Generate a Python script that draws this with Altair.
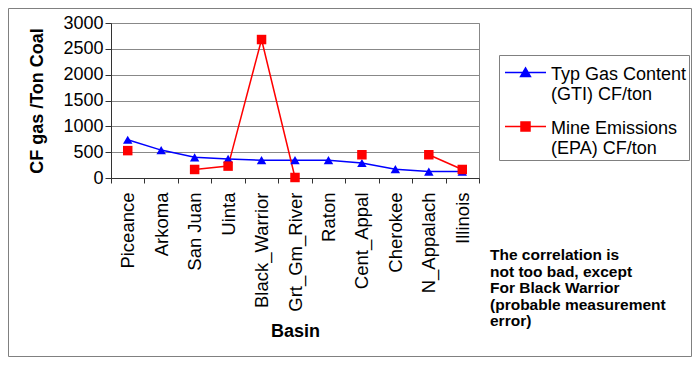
import altair as alt
import pandas as pd

# ---- data ----
basins = ["Piceance", "Arkoma", "San Juan", "Uinta", "Black_Warrior",
          "Grt_Gm_River", "Raton", "Cent_Appal", "Cherokee", "N_Appalach", "Illinois"]
gti_values = [740, 540, 400, 370, 345, 345, 345, 290, 170, 125, 125]
epa_values = [530, None, 165, 230, 2680, 10, None, 450, None, 450, 165]
series_names = ["Typ Gas Content\n(GTI) CF/ton", "Mine Emissions\n(EPA) CF/ton"]
series_colors = ["#0000FF", "#FF0000"]
series_shapes = ["triangle-up", "square"]
y_ticks = [0, 500, 1000, 1500, 2000, 2500, 3000]
note_lines = ["The correlation is", "not too bad, except", "For Black Warrior",
              "(probable measurement", "error)"]

FONT = "Liberation Sans"

# ---- long-form table; 'seg' breaks the line where a value is missing ----
rows = []
for name, vals in zip(series_names, [gti_values, epa_values]):
    seg = 0
    for b, v in zip(basins, vals):
        if v is None:
            seg += 1
            continue
        rows.append({"basin": b, "series": name, "value": v, "seg": f"{name}-{seg}"})
df = pd.DataFrame(rows)

x_enc = alt.X(
    "basin:N",
    sort=basins,
    scale=alt.Scale(type="band", domain=basins, paddingInner=0, paddingOuter=0),
    axis=alt.Axis(
        title="Basin", titleFont=FONT, titleFontSize=18, titleFontWeight="bold",
        titleColor="black", titlePadding=11,
        labelFont=FONT, labelFontSize=18.5, labelColor="black", labelAngle=270,
        labelPadding=9, tickSize=5, tickColor="#333333", tickBand="extent",
        domainColor="#333333", grid=False,
    ),
)
y_enc = alt.Y(
    "value:Q",
    scale=alt.Scale(domain=[0, 3000], nice=False),
    axis=alt.Axis(
        values=y_ticks, format="d", title="CF gas /Ton Coal", titleFont=FONT,
        titleFontSize=18, titleFontWeight="bold", titleColor="black", titlePadding=16,
        labelFont=FONT, labelFontSize=18, labelColor="black", labelPadding=2,
        tickSize=6, tickColor="#333333", domainColor="#333333",
        grid=True, gridColor="#888888",
    ),
)

color_scale = alt.Scale(domain=series_names, range=series_colors)

lines = alt.Chart(df).mark_line(strokeWidth=1.5).encode(
    x=x_enc, y=y_enc,
    color=alt.Color("series:N", scale=color_scale, legend=None),
    detail="seg:N",
)

points = alt.Chart(df).mark_point(filled=True, opacity=1, size=90).encode(
    x=x_enc, y=y_enc,
    color=alt.Color("series:N", scale=color_scale, legend=None),
    shape=alt.Shape("series:N", scale=alt.Scale(domain=series_names, range=series_shapes),
                    legend=None),
)

# legend symbols: a short line with the series marker on it
legend_paths = [
    "M-1,-0.1H1M0,-0.32L0.24,0.1L-0.24,0.1Z",
    "M-1,-0.1H1M-0.22,-0.32H0.22V0.12H-0.22Z",
]
legend_y = [30, 84]


def legend_layer(i):
    lg = alt.Legend(
        title=None, orient="none", legendX=393, legendY=legend_y[i],
        labelExpr="split(datum.label, '\\n')",
        labelFont=FONT, labelFontSize=18, labelColor="black", labelBaseline="middle",
        labelOffset=4, labelLimit=300,
        symbolType=legend_paths[i], symbolSize=1681, symbolStrokeWidth=1.5,
        symbolStrokeColor=series_colors[i], symbolFillColor=series_colors[i],
        symbolOpacity=1, padding=0,
    )
    return alt.Chart(df).transform_filter("false").mark_point(
        filled=True, opacity=1, shape=legend_paths[i],
        stroke=series_colors[i], strokeWidth=1.5,
    ).encode(
        x=x_enc, y=y_enc,
        fill=alt.Fill("series:N",
                      scale=alt.Scale(domain=[series_names[i]], range=[series_colors[i]]),
                      legend=lg),
    )


note_df = pd.DataFrame({"k": [0]})
note = alt.Chart(note_df).mark_text(
    text=note_lines, align="left", baseline="alphabetic", font=FONT,
    fontSize=15.5, fontWeight="bold", color="black", lineHeight=16.5,
).encode(x=alt.value(379), y=alt.value(237))

border = alt.Chart(note_df).mark_rect(
    filled=False, stroke="#808080", strokeWidth=1
).encode(
    x=alt.value(-102.5), x2=alt.value(580.5), y=alt.value(-14.5), y2=alt.value(333.5)
)

legend_box = alt.Chart(note_df).mark_rect(
    fill="white", stroke="#808080", strokeWidth=1
).encode(
    x=alt.value(388.5), x2=alt.value(578.5), y=alt.value(32.5), y2=alt.value(137.5)
)

chart = alt.layer(
    border, legend_box, lines, points, legend_layer(0), legend_layer(1), note
).resolve_scale(
    shape="independent", fill="independent"
).resolve_legend(
    fill="independent"
).properties(
    width=368, height=155,
    padding={"left": 103, "top": 15, "right": 213, "bottom": 179},
    autosize=alt.AutoSizeParams(type="none"),
    background="white",
).configure_view(stroke="#888888", strokeWidth=1)

chart.save("out.html", embed_options={"renderer": "svg", "actions": False})
